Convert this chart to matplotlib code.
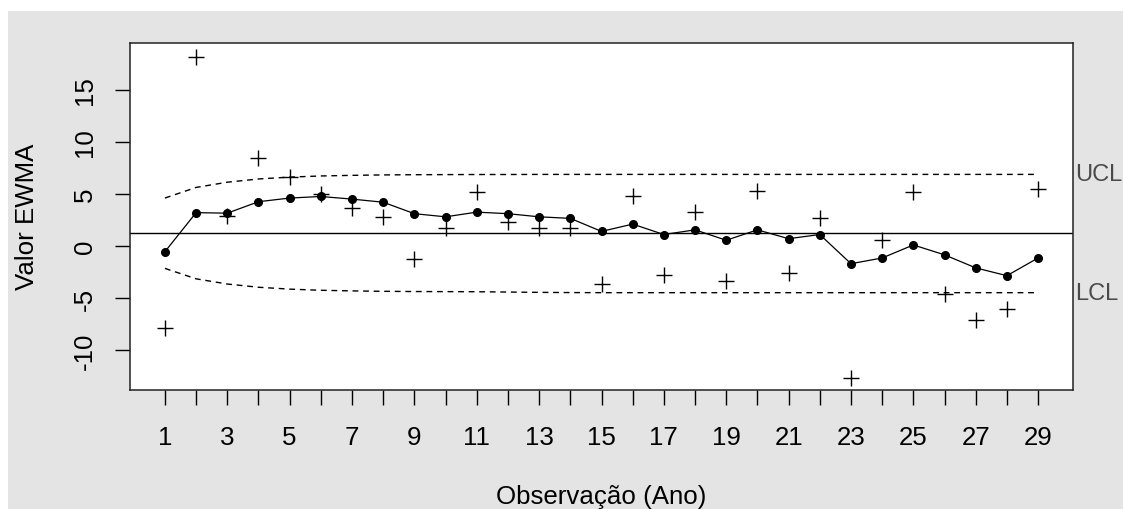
"""Gráfico EWMA (réplica de qcc) -> out.png"""
import matplotlib
matplotlib.use("Agg")
import matplotlib.pyplot as plt
from matplotlib.patches import Rectangle
import matplotlib.transforms as mtransforms

# dados
anos = list(range(1, 30))
observado = [-7.9, 18.1, 2.9, 8.45, 6.6, 4.95, 3.6, 2.75, -1.25, 1.7,
             5.2, 2.35, 1.75, 1.75, -3.6, 4.8, -2.75, 3.25, -3.4, 5.3,
             -2.6, 2.65, -12.65, 0.6, 5.15, -4.65, -7.1, -6.05, 5.5]
ewma = [-0.55, 3.2, 3.15, 4.25, 4.6, 4.75, 4.5, 4.2, 3.1, 2.8,
        3.25, 3.1, 2.8, 2.65, 1.4, 2.1, 1.1, 1.55, 0.55, 1.55,
        0.7, 1.1, -1.7, -1.15, 0.1, -0.85, -2.1, -2.85, -1.15]
ucl = [4.6, 5.62, 6.12, 6.43, 6.61, 6.72, 6.78, 6.82, 6.84, 6.85,
       6.86, 6.86, 6.87, 6.87, 6.87, 6.87, 6.87, 6.87, 6.87, 6.87,
       6.87, 6.87, 6.87, 6.87, 6.87, 6.87, 6.87, 6.87, 6.87]
lcl = [-2.15, -3.15, -3.65, -3.96, -4.14, -4.25, -4.31, -4.35, -4.37, -4.38,
       -4.39, -4.42, -4.45, -4.47, -4.48, -4.48, -4.48, -4.48, -4.48, -4.48,
       -4.48, -4.48, -4.48, -4.48, -4.48, -4.48, -4.48, -4.48, -4.48]
centro = 1.25
y_ticks = [-10, -5, 0, 5, 10, 15]
x_labels = [str(a) if a % 2 == 1 else "" for a in anos]

plt.rcParams["font.family"] = ["Liberation Sans", "DejaVu Sans"]
FS = 18.6
W, H = 1123, 510

fig = plt.figure(figsize=(W / 100, H / 100), dpi=100, facecolor="white")
# fundo cinza (começa um pouco abaixo/direita do canto)
fig.patches.append(Rectangle((8 / W, 0), 1, (H - 12) / H, transform=fig.transFigure,
                             facecolor="#e4e4e4", edgecolor="none", zorder=-5))

ax = fig.add_axes([130 / W, 1 - 391 / H, (1073 - 130) / W, (391 - 44) / H])
ax.set_facecolor("white")

ax.axhline(centro, color="black", lw=1.0)
ax.plot(anos, ucl, color="black", lw=1.0, dashes=(4.2, 3.4))
ax.plot(anos, lcl, color="black", lw=1.0, dashes=(4.2, 3.4))
ax.plot(anos, ewma, "-o", color="black", lw=0.9, ms=5.5)
ax.plot(anos, observado, "+", color="black", ms=11, mew=1.0)

ax.set_xlim(-0.12, 30.12)
ax.set_ylim(-13.82, 19.48)
ax.set_xticks(anos)
ax.set_xticklabels(x_labels)
ax.set_yticks(y_ticks)
ax.set_yticklabels([str(v) for v in y_ticks], rotation=90, va="center")
ax.tick_params(axis="both", direction="out", length=11, width=1.0, labelsize=FS, color="black")
ax.tick_params(axis="x", pad=14)
ax.tick_params(axis="y", pad=13)
for s in ax.spines.values():
    s.set_linewidth(1.1)
    s.set_color("#222222")

# UCL / LCL na margem direita
trans = mtransforms.blended_transform_factory(ax.transAxes, ax.transData)
ax.text(1.002, ucl[-1], "UCL", transform=trans, ha="left", va="center",
        fontsize=17, color="#4a4a4a", clip_on=False)
ax.text(1.002, lcl[-1], "LCL", transform=trans, ha="left", va="center",
        fontsize=17, color="#4a4a4a", clip_on=False)

fig.text(601 / W, 1 - 497 / H, "Observação (Ano)", ha="center", va="center", fontsize=FS)
fig.text(27 / W, 1 - 217 / H, "Valor EWMA", ha="center", va="center", rotation=90, fontsize=FS)

fig.savefig("out.png", dpi=100, facecolor="white")
